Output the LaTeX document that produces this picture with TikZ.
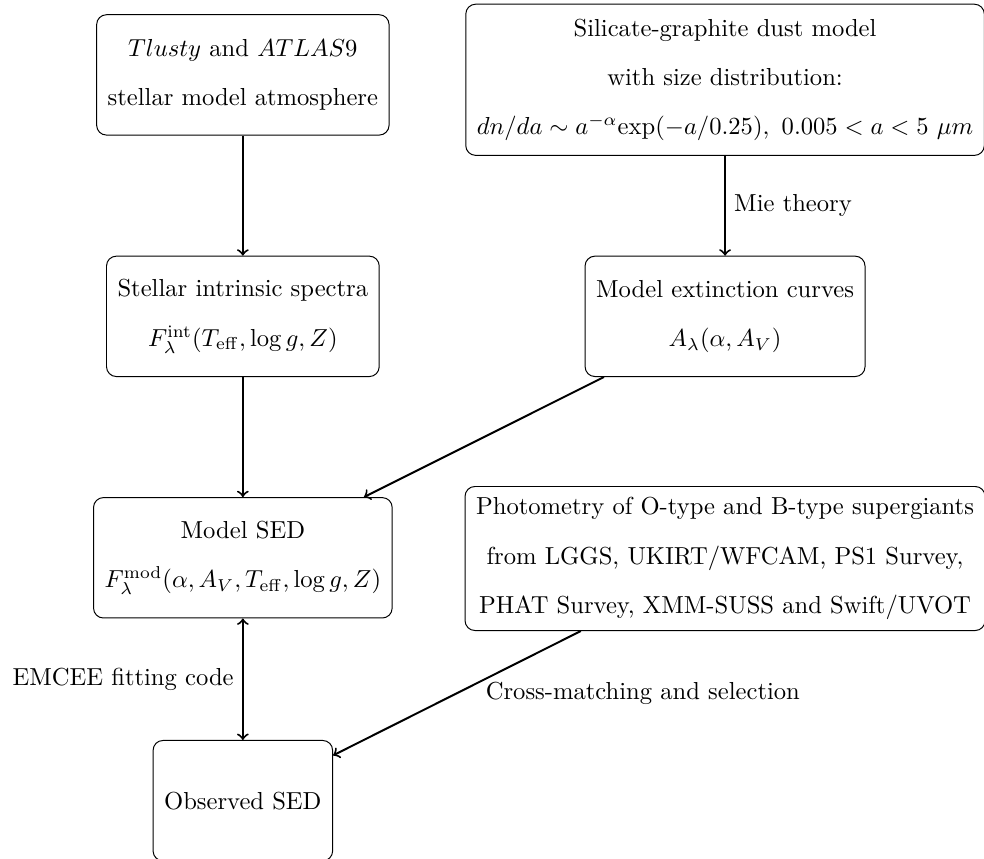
\documentclass[tikz,border=0pt]{standalone}
\usepackage{tikz}
\usepackage{amsmath}

\begin{document}
\begin{tikzpicture}
[
    box/.style={draw, rounded corners=4pt, align=center, minimum height=1.72cm, inner sep=4.5pt},
    flow/.style={->, thick},
]
\useasboundingbox (0,0) rectangle (14.06,-12.26);
\node [box] (atmos) at (3.47,-1.07)
{$Tlusty$ and $ATLAS9$\\[8pt] stellar model atmosphere};
\node [box, minimum height=2.16cm] (dust) at (10.36,-1.14)
{Silicate-graphite dust model\\[8pt] with size distribution:\\[8pt]
$dn/da \sim a^{-\alpha}\mathrm{exp}(-a/0.25),~0.005 < a < 5~\mu m$};
\node [box] (intrinsic) at (3.47,-4.52)
{Stellar intrinsic spectra\\[8pt] $F_\lambda^{\mathrm{int}}(T_{\mathrm{eff}}, \log g, Z)$};
\node [box] (extinct) at (10.36,-4.52)
{Model extinction curves\\[8pt] $A_\lambda(\alpha, A_V)$};
\node [box] (modelsed) at (3.47,-7.97)
{Model SED\\[8pt] $F_\lambda^{\mathrm{mod}}(\alpha, A_V, T_{\mathrm{eff}}, \log g, Z)$};
\node [box] (photom) at (10.36,-7.98)
{Photometry of O-type and B-type supergiants\\[8pt]
from LGGS, UKIRT/WFCAM, PS1 Survey,\\[8pt]
PHAT Survey, XMM-SUSS and Swift/UVOT};
\node [box] (observed) at (3.47,-11.44)
{Observed SED};
\draw [flow] (atmos) -- (intrinsic);
\draw [flow] (dust) -- node[right] {Mie theory} (extinct);
\draw [flow] (intrinsic) -- (modelsed);
\draw [flow] (extinct) -- (modelsed);
\draw [flow, <->] (modelsed) -- node[left] {EMCEE fitting code} (observed);
\draw [flow] (photom) -- node[right=8pt] {Cross-matching and selection} (observed);
\end{tikzpicture}
\end{document}
